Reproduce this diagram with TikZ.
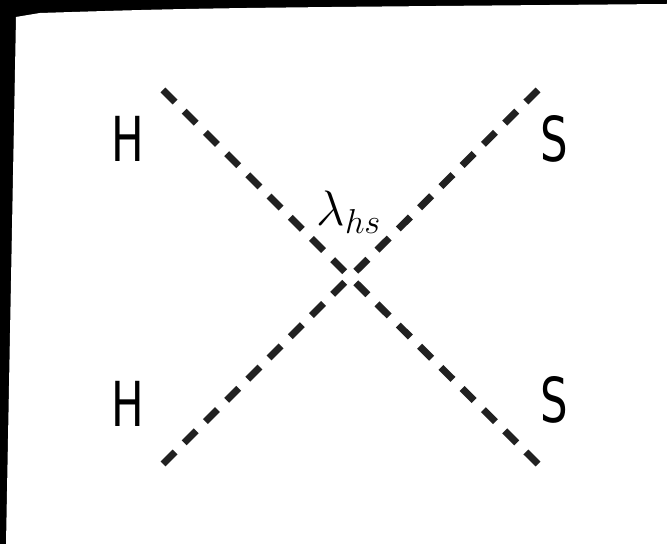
\documentclass[tikz,border=0pt]{standalone}
\usepackage{amsmath}
\usepackage{fontspec}
\newfontfamily\handfont[FakeStretch=0.7]{DejaVu Sans}
\usetikzlibrary{positioning}

\begin{document}
\begin{tikzpicture}[
    x=0.5pt, y=-0.5pt,
    particle/.style={inner sep=0pt, font=\handfont\fontsize{31}{31}\selectfont},
    coupling/.style={inner sep=0pt, font=\fontsize{26}{26}\selectfont},
    scalarline/.style={line width=3.5pt, color=black!87, dash pattern=on 8.5pt off 6.5pt}
]
\useasboundingbox (0,0) rectangle (667,544);
% frame
\fill[black] (0,0) rectangle (667,544);
\fill[white] (16,17) -- (40,13) .. controls (200,8) .. (667,4) -- (667,544) -- (6,544) -- cycle;

\coordinate (vtx) at (350,277);
\coordinate (hA) at (163,90);
\coordinate (sA) at (538,90);
\coordinate (hB) at (163,464);
\coordinate (sB) at (538,464);

\node[particle] (Htop) at (128,139) {H};
\node[particle] (Hbot) at (128,404) {H};
\node[particle] (Stop) at (554,139) {S};
\node[particle] (Sbot) at (554,400) {S};
\node[coupling] (lam) at (349,212) {$\lambda_{hs}$};

% the four legs, each dashed from its outer end
\foreach \leg in {hA,sA,hB,sB}
  \draw[scalarline] (\leg) -- (vtx);
\end{tikzpicture}
\end{document}
